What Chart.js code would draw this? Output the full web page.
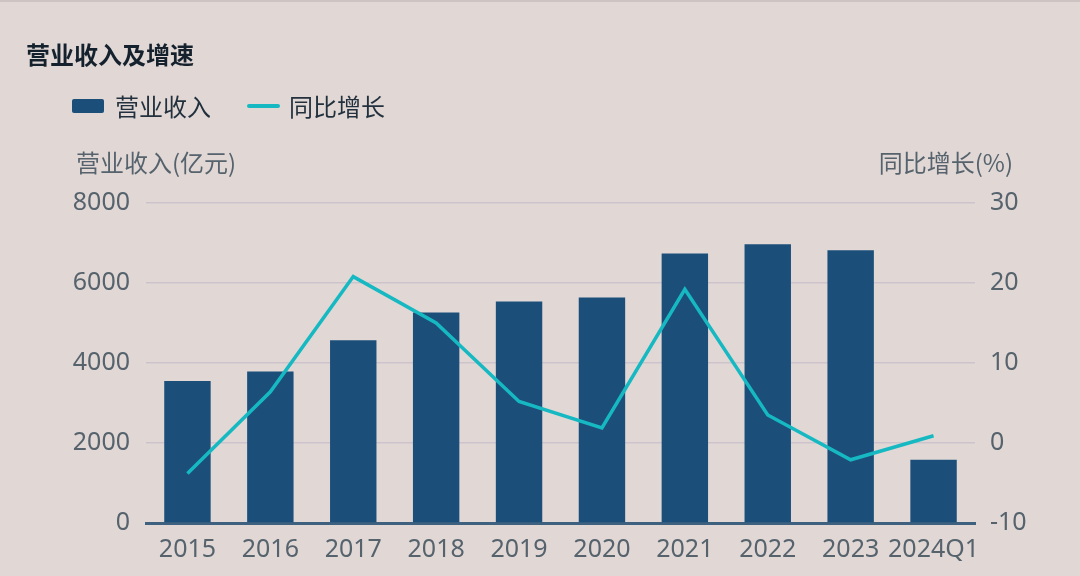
<!DOCTYPE html>
<html lang="zh">
<head>
    <meta charset="UTF-8">
    <title>营业收入及增速</title>
    <script src="https://cdn.jsdelivr.net/npm/chart.js"></script>
    <style>
        body {
            margin: 0;
            width: 1080px;
            height: 576px;
            background: #e1d8d6;
            font-family: "Noto Sans", "Noto Sans CJK SC", sans-serif;
            overflow: hidden;
            position: relative;
            border-top: 2px solid #cdc3c3;
            box-sizing: border-box;
        }
        .title {
            position: absolute;
            left: 26px;
            top: 34px;
            font-size: 24px;
            font-weight: bold;
            color: #15222d;
            font-family: "Noto Sans CJK SC", sans-serif;
        }
        .legend {
            position: absolute;
            left: 72px;
            top: 86px;
            display: flex;
            align-items: center;
            font-size: 24px;
            color: #22313d;
            font-family: "Noto Sans CJK SC", sans-serif;
        }
        .legend .box {
            width: 32px;
            height: 14px;
            background: #1b4f7a;
            border-radius: 2px;
            margin-right: 11px;
        }
        .legend .ln {
            width: 33px;
            height: 4px;
            background: #16b9c2;
            border-radius: 2px;
            margin-left: 36px;
            margin-right: 9px;
        }
        .axis-title {
            position: absolute;
            top: 142px;
            font-size: 24px;
            color: #56636d;
            font-family: "Noto Sans CJK SC", sans-serif;
        }
        #chartWrap {
            position: absolute;
            left: 0;
            top: 0;
            width: 1080px;
            height: 576px;
        }
    </style>
</head>
<body>
    <div id="chartWrap"><canvas id="revChart" width="1080" height="576"></canvas></div>

    <div class="title">营业收入及增速</div>
    <div class="legend">
        <div class="box"></div><span>营业收入</span>
        <div class="ln"></div><span>同比增长</span>
    </div>
    <div class="axis-title" style="left:76px;">营业收入(亿元)</div>
    <div class="axis-title" style="right:67px;">同比增长(%)</div>

    <script>
        // 数据
        const years = ["2015", "2016", "2017", "2018", "2019", "2020", "2021", "2022", "2023", "2024Q1"];
        const revenue = [3550, 3790, 4570, 5260, 5540, 5640, 6740, 6970, 6820, 1580];
        const growth = [-3.8, 6.4, 20.8, 15.0, 5.2, 1.9, 19.2, 3.5, -2.1, 0.9];

        const leftTicks = [0, 2000, 4000, 6000, 8000];
        const rightTicks = [-10, 0, 10, 20, 30];

        const tickFont = { family: "'Noto Sans', 'Noto Sans CJK SC', sans-serif", size: 25 };
        const tickColor = "#56636d";

        const ctx = document.getElementById('revChart').getContext('2d');
        new Chart(ctx, {
            type: 'bar',
            data: {
                labels: years,
                datasets: [
                    {
                        type: 'line',
                        label: '同比增长',
                        data: growth,
                        yAxisID: 'y1',
                        borderColor: '#16b9c2',
                        borderWidth: 3.5,
                        pointRadius: 0,
                        tension: 0,
                        fill: false,
                        order: 0
                    },
                    {
                        type: 'bar',
                        label: '营业收入',
                        data: revenue,
                        yAxisID: 'y',
                        backgroundColor: '#1b4f7a',
                        borderWidth: 0,
                        categoryPercentage: 1.0,
                        barPercentage: 0.56,
                        order: 1
                    }
                ]
            },
            options: {
                responsive: false,
                animation: false,
                events: [],
                layout: { padding: { top: 201, left: 0, right: 0, bottom: 0 } },
                plugins: {
                    legend: { display: false },
                    title: { display: false },
                    tooltip: { enabled: false }
                },
                scales: {
                    x: {
                        grid: { display: false, drawTicks: false },
                        border: { display: true, color: '#3e6180', width: 3 },
                        ticks: { font: tickFont, color: tickColor, padding: 12, maxRotation: 0, autoSkip: false },
                        afterFit: function (scale) { scale.height = 55; }
                    },
                    y: {
                        position: 'left',
                        min: 0,
                        max: 8000,
                        afterBuildTicks: function (scale) { scale.ticks = leftTicks.map(v => ({ value: v })); },
                        grid: {
                            drawTicks: false,
                            color: ctx => ctx.tick && ctx.tick.value === 0 ? 'rgba(0,0,0,0)' : '#cdc3cc',
                            lineWidth: 1.5
                        },
                        border: { display: false },
                        ticks: { font: tickFont, color: tickColor, padding: 16, callback: v => String(v) },
                        afterFit: function (scale) { scale.width = 146; }
                    },
                    y1: {
                        position: 'right',
                        min: -10,
                        max: 30,
                        afterBuildTicks: function (scale) { scale.ticks = rightTicks.map(v => ({ value: v })); },
                        grid: { display: false, drawTicks: false },
                        border: { display: false },
                        ticks: { font: tickFont, color: tickColor, padding: 15, callback: v => String(v) },
                        afterFit: function (scale) { scale.width = 105; }
                    }
                }
            }
        });
    </script>
</body>
</html>
